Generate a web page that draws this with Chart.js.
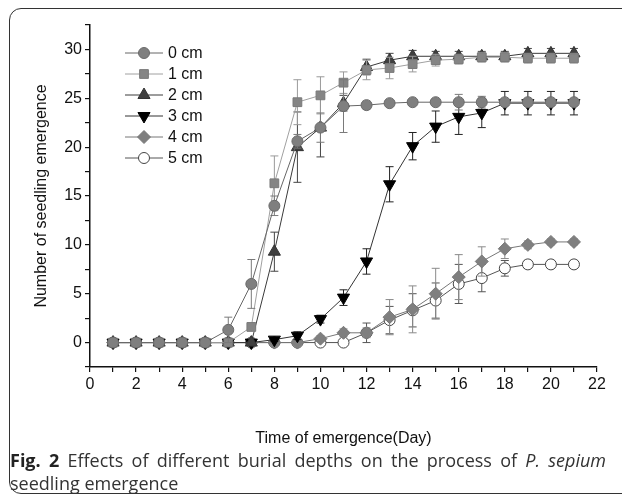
<!DOCTYPE html>
<html>
<head>
<meta charset="utf-8">
<script src="https://cdn.jsdelivr.net/npm/chart.js@4.4.1/dist/chart.umd.min.js"></script>
<style>
  html, body { margin: 0; padding: 0; background: #fff; }
  body { width: 622px; height: 495px; position: relative; overflow: hidden; }
  #frame { position: absolute; left: 9px; top: 8px; width: 700px; height: 486px;
           border: 1.5px solid #333; border-radius: 12px; box-sizing: border-box; }
  #chart { position: absolute; left: 0; top: 0; }
  #caption { position: absolute; left: 10px; top: 449px; width: 596px; text-align: justify;
             font-family: "Open Sans", sans-serif; font-size: 18px; line-height: 23px; color: #333; }
  #caption b { color: #222; }
</style>
</head>
<body>
<div id="frame"></div>
<canvas id="chart" width="622" height="450"></canvas>
<div id="caption"><b>Fig. 2</b> Effects of different burial depths on the process of <i>P. sepium</i> seedling emergence</div>

<script>
// Dados
const days = [1, 2, 3, 4, 5, 6, 7, 8, 9, 10, 11, 12, 13, 14, 15, 16, 17, 18, 19, 20, 21];
const seriesLabels = ['0 cm', '1 cm', '2 cm', '3 cm', '4 cm', '5 cm'];

const depth0 = [0, 0, 0, 0, 0, 1.3, 6.0, 14.0, 20.6, 22.0, 24.2, 24.3, 24.5, 24.6, 24.6, 24.6, 24.6, 24.6, 24.6, 24.6, 24.6];
const depth1 = [0, 0, 0, 0, 0, 0, 1.6, 16.3, 24.6, 25.3, 26.6, 27.9, 28.1, 28.5, 28.9, 29.0, 29.2, 29.2, 29.1, 29.1, 29.1];
const depth2 = [0, 0, 0, 0, 0, 0, 0, 9.3, 20.0, 22.0, 24.5, 28.2, 28.9, 29.3, 29.3, 29.3, 29.3, 29.3, 29.6, 29.6, 29.6];
const depth3 = [0, 0, 0, 0, 0, 0, 0, 0.3, 0.7, 2.4, 4.6, 8.3, 16.2, 20.1, 22.1, 23.1, 23.5, 24.5, 24.5, 24.5, 24.5];
const depth4 = [0, 0, 0, 0, 0, 0, 0, 0, 0, 0.4, 1.0, 1.0, 2.6, 3.4, 5.0, 6.7, 8.3, 9.6, 10.0, 10.3, 10.3];
const depth5 = [0, 0, 0, 0, 0, 0, 0, 0, 0, 0, 0, 1.0, 2.3, 3.3, 4.3, 6.0, 6.6, 7.6, 8.0, 8.0, 8.0];

const err0 = [0, 0, 0, 0, 0, 1.3, 2.5, 1.0, 0.7, 1.5, 2.7, 0.4, 0.3, 0.3, 0.3, 0.8, 0.6, 0.3, 0.3, 0.3, 0.3];
const err1 = [0, 0, 0, 0, 0, 0, 0.3, 2.8, 2.3, 1.9, 1.1, 1.0, 1.1, 0.8, 0.6, 0.5, 0.5, 0.5, 0.5, 0.5, 0.5];
const err2 = [0, 0, 0, 0, 0, 0, 0, 2.0, 3.6, 3.0, 0.8, 0.8, 0.7, 0.6, 0.5, 0.5, 0.5, 0.5, 0.5, 0.5, 0.5];
const err3 = [0, 0, 0, 0, 0, 0, 0, 0.2, 0.4, 0.4, 0.8, 1.3, 1.8, 1.4, 1.6, 1.8, 1.5, 1.2, 1.2, 1.2, 1.2];
const err4 = [0, 0, 0, 0, 0, 0, 0, 0, 0, 0.3, 0.4, 0.5, 1.8, 2.4, 2.6, 2.3, 1.5, 1.0, 0.4, 0.3, 0.3];
const err5 = [0, 0, 0, 0, 0, 0, 0, 0, 0, 0, 0, 1.0, 1.4, 1.7, 1.8, 2.0, 1.4, 0.8, 0.4, 0.4, 0.4];

const xTickLabels = [0, 2, 4, 6, 8, 10, 12, 14, 16, 18, 20, 22];
const yTickLabels = [0, 5, 10, 15, 20, 25, 30];

const FONT = '"Liberation Sans", Arial, sans-serif';

// Estilo de cada série (marcador, cores)
const styles = [
  { pointStyle: 'circle',   radius: 5.5, rotation: 0,   fill: '#7f7f7f', edge: '#6a6a6a', line: '#666666', err: '#7a7a7a' },
  { pointStyle: 'rect',     radius: 6.2, rotation: 0,   fill: '#858585', edge: '#7a7a7a', line: '#a0a0a0', err: '#9a9a9a' },
  { pointStyle: 'triangle', radius: 7,   rotation: 0,   fill: '#3f3f3f', edge: '#333333', line: '#3a3a3a', err: '#444444' },
  { pointStyle: 'triangle', radius: 7,   rotation: 180, fill: '#000000', edge: '#000000', line: '#333333', err: '#222222' },
  { pointStyle: 'rectRot',  radius: 6.5, rotation: 0,   fill: '#7f7f7f', edge: '#777777', line: '#777777', err: '#8a8a8a' },
  { pointStyle: 'circle',   radius: 5.5, rotation: 0,   fill: '#ffffff', edge: '#444444', line: '#555555', err: '#555555' }
];

const values = [depth0, depth1, depth2, depth3, depth4, depth5];
const errors = [err0, err1, err2, err3, err4, err5];

const datasets = values.map((vals, i) => ({
  label: seriesLabels[i],
  data: days.map((d, k) => ({ x: d, y: vals[k] })),
  errors: errors[i],
  errorColor: styles[i].err,
  borderColor: styles[i].line,
  borderWidth: 1,
  pointStyle: styles[i].pointStyle,
  pointRotation: styles[i].rotation,
  pointRadius: styles[i].radius,
  pointBackgroundColor: styles[i].fill,
  pointBorderColor: styles[i].edge,
  pointBorderWidth: 1,
  tension: 0,
  clip: false
}));

// Barras de erro desenhadas antes de cada série
const errorBars = {
  id: 'errorBars',
  beforeDatasetDraw(chart, args) {
    const ds = chart.data.datasets[args.index];
    const yScale = chart.scales.y;
    const ctx = chart.ctx;
    ctx.save();
    ctx.strokeStyle = ds.errorColor;
    ctx.lineWidth = 1;
    args.meta.data.forEach((pt, i) => {
      const e = ds.errors[i];
      if (!e) return;
      const v = ds.data[i].y;
      const top = yScale.getPixelForValue(v + e);
      const bot = yScale.getPixelForValue(v - e);
      const x = pt.x;
      ctx.beginPath();
      ctx.moveTo(x, top); ctx.lineTo(x, bot);
      ctx.moveTo(x - 4, top); ctx.lineTo(x + 4, top);
      ctx.moveTo(x - 4, bot); ctx.lineTo(x + 4, bot);
      ctx.stroke();
    });
    ctx.restore();
  }
};

// Legenda dentro da área do gráfico
const insideLegend = {
  id: 'insideLegend',
  afterDraw(chart) {
    const ctx = chart.ctx;
    const x0 = 125, x1 = 163, rowY = 53, step = 21;
    ctx.save();
    chart.data.datasets.forEach((ds, i) => {
      const y = rowY + i * step;
      const st = styles[i];
      ctx.strokeStyle = st.line;
      ctx.lineWidth = 1;
      ctx.beginPath();
      ctx.moveTo(x0, y); ctx.lineTo(x1, y);
      ctx.stroke();
      ctx.fillStyle = st.fill;
      ctx.strokeStyle = st.edge;
      Chart.helpers.drawPoint(ctx, {
        pointStyle: st.pointStyle, radius: st.radius, rotation: st.rotation, borderWidth: 1
      }, (x0 + x1) / 2, y);
      ctx.fillStyle = '#111';
      ctx.font = '16px ' + FONT;
      ctx.textBaseline = 'middle';
      ctx.textAlign = 'left';
      ctx.fillText(ds.label, 168, y + 1);
    });
    ctx.restore();
  }
};

const ctx = document.getElementById('chart');
new Chart(ctx, {
  type: 'line',
  data: { datasets },
  options: {
    responsive: false,
    animation: false,
    layout: { padding: { left: 30, right: 25, top: 25, bottom: 0 } },
    plugins: { legend: { display: false }, tooltip: { enabled: false } },
    scales: {
      x: {
        type: 'linear',
        min: 0, max: 22,
        afterFit(scale) { scale.height = 83; },
        ticks: {
          stepSize: 1, autoSkip: false, maxRotation: 0, padding: 3,
          color: '#111', font: { family: FONT, size: 16 },
          callback: v => xTickLabels.includes(v) ? String(v) : ''
        },
        grid: { drawOnChartArea: false, drawTicks: true, tickLength: 5, color: '#111', lineWidth: 1.2 },
        border: { display: true, color: '#111', width: 1.5 },
        title: {
          display: true, text: 'Time of emergence(Day)', color: '#111',
          font: { family: FONT, size: 16 }, padding: { top: 0, bottom: 2 }
        }
      },
      y: {
        type: 'linear',
        min: -2.5, max: 32.5,
        afterFit(scale) { scale.width = 60; },
        ticks: {
          stepSize: 2.5, autoSkip: false, padding: 3,
          color: '#111', font: { family: FONT, size: 16 },
          callback: v => yTickLabels.includes(v) ? String(v) : ''
        },
        grid: { drawOnChartArea: false, drawTicks: true, tickLength: 5, color: '#111', lineWidth: 1.2 },
        border: { display: true, color: '#111', width: 1.5 },
        title: {
          display: true, text: 'Number of seedling emergence', color: '#111',
          font: { family: FONT, size: 16 }, padding: { top: 2, bottom: 0 }
        }
      }
    }
  },
  plugins: [errorBars, insideLegend]
});
</script>
</body>
</html>
